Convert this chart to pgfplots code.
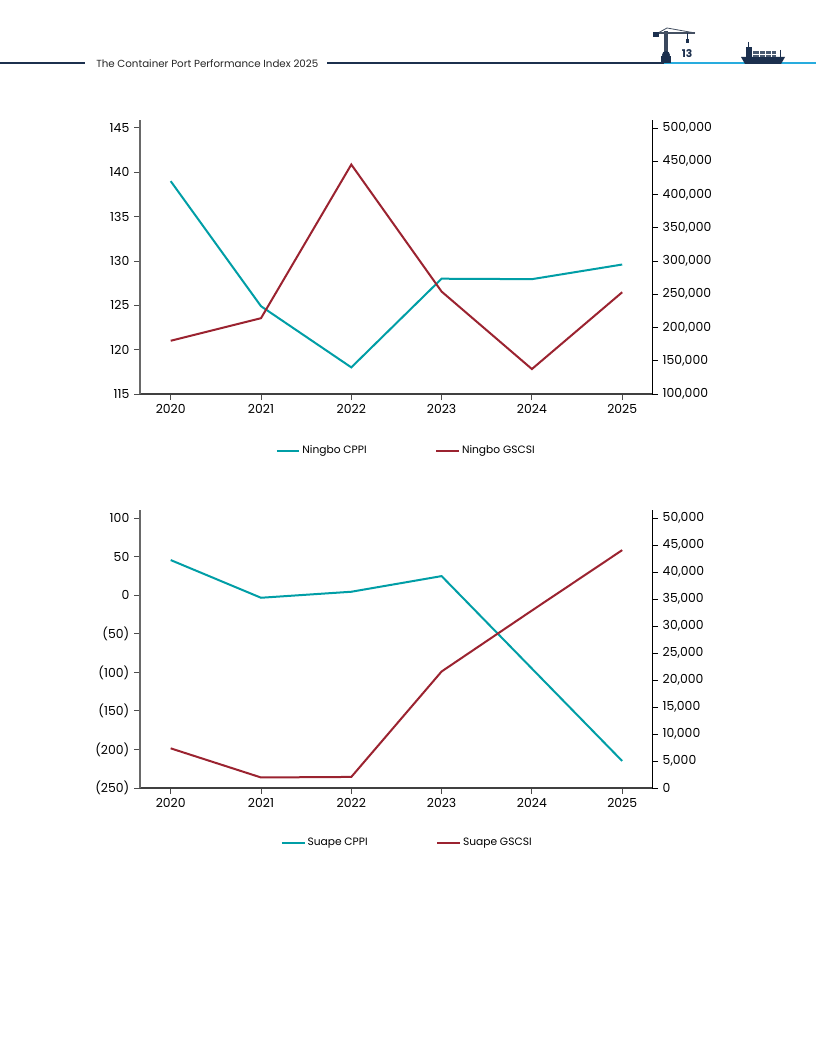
\documentclass[border=0pt]{standalone}
\usepackage{fontspec}
\setmainfont{Poppins}
\usepackage{pgfplots}
\pgfplotsset{compat=1.18}
\definecolor{cppi}{RGB}{0,158,166}
\definecolor{gscsi}{RGB}{155,35,48}
\definecolor{navy}{RGB}{28,48,78}
\definecolor{lblue}{RGB}{40,172,222}
\definecolor{axgray}{RGB}{105,105,105}

\pgfplotsset{
  basestyle/.style={
    scale only axis, width=384pt, height=205.5pt,
    anchor=south west,
    xmin=-0.34, xmax=5.33,
    tick align=outside, major tick length=4.5pt,
    tick label style={font=\fontsize{9.3}{11}\selectfont},
    /pgf/number format/assume math mode=true,
    every tick/.style={black, line width=0.6pt},
  },
  leftstyle/.style={
    basestyle,
    axis y line*=left, axis x line*=bottom,
    y axis line style={-, axgray, line width=1.3pt},
    x axis line style={-, black!75, line width=1.1pt},
    xtick={0,1,2,3,4,5}, xticklabels={2020,2021,2022,2023,2024,2025},
    every tick/.style={black!70, line width=0.7pt},
  },
  rightstyle/.style={
    basestyle,
    axis y line*=right, axis x line=none,
    y axis line style={-, black, line width=0.7pt},
    scaled y ticks=false,
    yticklabel style={/pgf/number format/.cd, fixed, 1000 sep={,}},
    legend columns=2,
    legend cell align=left,
    legend style={draw=none, fill=none, font=\fontsize{8}{10}\selectfont,
      /tikz/every even column/.append style={column sep=50pt},
      nodes={inner sep=1.5pt}},
    legend image code/.code={\draw[#1] (0pt,0pt) -- (17pt,0pt);},
  },
}

\begin{document}
\begin{tikzpicture}[x=0.75pt,y=0.75pt]
\useasboundingbox (0,0) rectangle (816,1056);
\fill[white] (0,0) rectangle (816,1056);

% ---------- header ----------
\begin{scope}[shift={(0,1056)}, yscale=-1]
  \draw[navy, line width=1.4] (0,63) -- (85,63);
  \draw[navy, line width=1.4] (327,63) -- (664,63);
  \draw[lblue, line width=1.4] (664,63) -- (816,63);
  \node[anchor=west, inner sep=0, text=black!85] at (96,63.5) {\fontsize{7.7}{9}\selectfont The Container Port Performance Index 2025};
  % crane
  \fill[navy!70!gray] (664,31) rectangle (668,57);
  \draw[navy!60!gray, line width=0.8] (655,33) -- (695,33);
  \draw[navy!60!gray, line width=0.6] (658,33) -- (667,28) -- (695,33);
  \fill[navy] (653,32) rectangle (659,37);
  \draw[navy, line width=0.7] (687,33) -- (687,40);
  \fill[navy] (685.5,39) rectangle (688.5,43);
  \fill[navy] (661,56) rectangle (671,63);
  \fill[navy] (666,55) circle (4);
  \node[inner sep=0, text=navy] at (687,53.5) {\fontsize{8}{10}\selectfont\bfseries 13};
  % ship
  \fill[navy] (741,57) -- (785,57) -- (781,64) -- (745,64) -- cycle;
  \fill[navy] (746,47) rectangle (752,57);
  \draw[navy, line width=0.7] (748.5,42) -- (748.5,47);
  \fill[navy!80] (753,51) rectangle (776,57);
  \draw[white, line width=0.3] (759,51) -- (759,57) (765,51) -- (765,57) (771,51) -- (771,57) (753,54) -- (776,54);
  \draw[navy, line width=0.6] (780,50) -- (780,57);
\end{scope}

% ---------- top chart ----------
\begin{axis}[leftstyle, at={(105pt,496.5pt)},
  ymin=115, ymax=145.9, ytick={115,120,...,145}]
  \addplot[cppi, line width=1.5pt] coordinates {
    (0,139.0) (1,124.9) (2,118.0) (3,128.0) (4,127.95) (5,129.6)};
\end{axis}
\begin{axis}[rightstyle, at={(105pt,496.5pt)},
  ymin=100000, ymax=512000, ytick={100000,150000,...,500000},
  legend style={at={(0.520,-0.207)}, anchor=center}]
  \addlegendimage{cppi, line width=1.5pt}
  \addlegendentry{Ningbo CPPI}
  \addplot[gscsi, line width=1.5pt] coordinates {
    (0,180000) (1,214000) (2,445000) (3,254000) (4,137500) (5,253000)};
  \addlegendentry{Ningbo GSCSI}
\end{axis}

% ---------- bottom chart ----------
\begin{axis}[leftstyle, at={(105pt,201pt)}, height=208.5pt,
  ymin=-250, ymax=110.8, ytick={-250,-200,...,100},
  yticklabels={(250),(200),(150),(100),(50),0,50,100}]
  \addplot[cppi, line width=1.5pt] coordinates {
    (0,45.8) (1,-3.1) (2,4.7) (3,25.0) (4,-95.0) (5,-215.0)};
\end{axis}
\begin{axis}[rightstyle, at={(105pt,201pt)}, height=208.5pt,
  ymin=0, ymax=51540, ytick={0,5000,...,50000},
  legend style={at={(0.522,-0.197)}, anchor=center}]
  \addlegendimage{cppi, line width=1.5pt}
  \addlegendentry{Suape CPPI}
  \addplot[gscsi, line width=1.5pt] coordinates {
    (0,7350) (1,1950) (2,2050) (3,21600) (4,32900) (5,44100)};
  \addlegendentry{Suape GSCSI}
\end{axis}
\end{tikzpicture}
\end{document}
